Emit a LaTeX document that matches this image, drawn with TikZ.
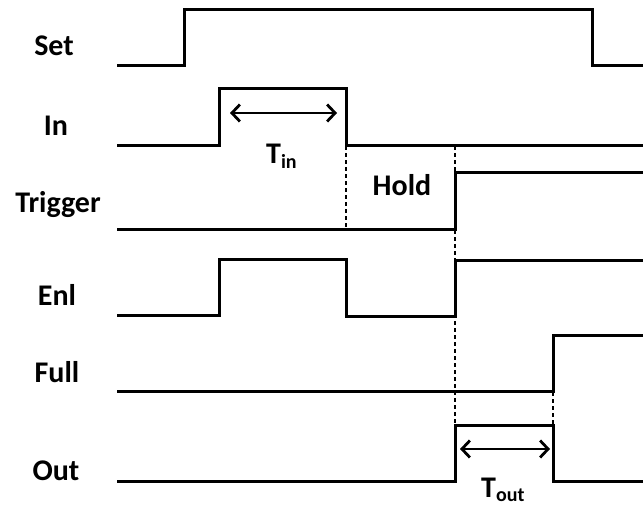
\documentclass[tikz,border=0pt]{standalone}
\usepackage{fontspec}
\setmainfont{Carlito}
\usetikzlibrary{arrows.meta}
\begin{document}
\begin{tikzpicture}[x=1pt,y=-1pt,
  sig/.style={line width=3pt,line join=miter},
  guide/.style={line width=2.6pt,dash pattern=on 4pt off 3pt},
  span/.style={line width=2.8pt,{Straight Barb[length=8pt,width=17pt]}-{Straight Barb[length=8pt,width=17pt]}},
  lbl/.style={font=\fontsize{30}{36}\selectfont\bfseries,anchor=base,inner sep=0pt},
  tlbl/.style={font=\fontsize{30}{36}\selectfont\bfseries,anchor=base west,inner sep=0pt}]
\useasboundingbox (0,0) rectangle (643,506);
% labels
\node[lbl] (lset) at (54,55) {Set};
\node[lbl] (lin) at (56,135) {In};
\node[lbl] (ltrig) at (58,212) {Trigger};
\node[lbl] (lenl) at (57,305) {Enl};
\node[lbl] (lfull) at (57,382) {Full};
\node[lbl] (lout) at (56,480) {Out};
\node[lbl] (hold) at (402,195) {Hold};
% dotted guides
\draw[guide] (346,146) -- (346,229);
\draw[guide] (455,146) -- (455,425);
\draw[guide] (553,392) -- (553,425);
% signals
\draw[sig] (117,65) -- (184,65) -- (184,9) -- (592,9) -- (592,65) -- (643,65);
\draw[sig] (117,145) -- (219,145) -- (219,88) -- (346,88) -- (346,145) -- (643,145);
\draw[sig] (117,229) -- (455,229) -- (455,172) -- (643,172);
\draw[sig] (117,315) -- (219,315) -- (219,259) -- (346,259) -- (346,316) -- (455,316) -- (455,260) -- (643,260);
\draw[sig] (117,391) -- (553,391) -- (553,335) -- (643,335);
\draw[sig] (117,481) -- (455,481) -- (455,425) -- (553,425) -- (553,481) -- (643,481);
% spans
\coordinate (tina) at (230,113);
\coordinate (tinb) at (337,113);
\draw[span] (tina) -- (tinb);
\coordinate (touta) at (460,449);
\coordinate (toutb) at (550,449);
\draw[span] (touta) -- (toutb);
\node[tlbl] (tin) at (266,163) {T\raisebox{-5pt}{\fontsize{20}{24}\selectfont in}};
\node[tlbl] (tout) at (481,497) {T\raisebox{-4pt}{\fontsize{20}{24}\selectfont out}};
\end{tikzpicture}
\end{document}
